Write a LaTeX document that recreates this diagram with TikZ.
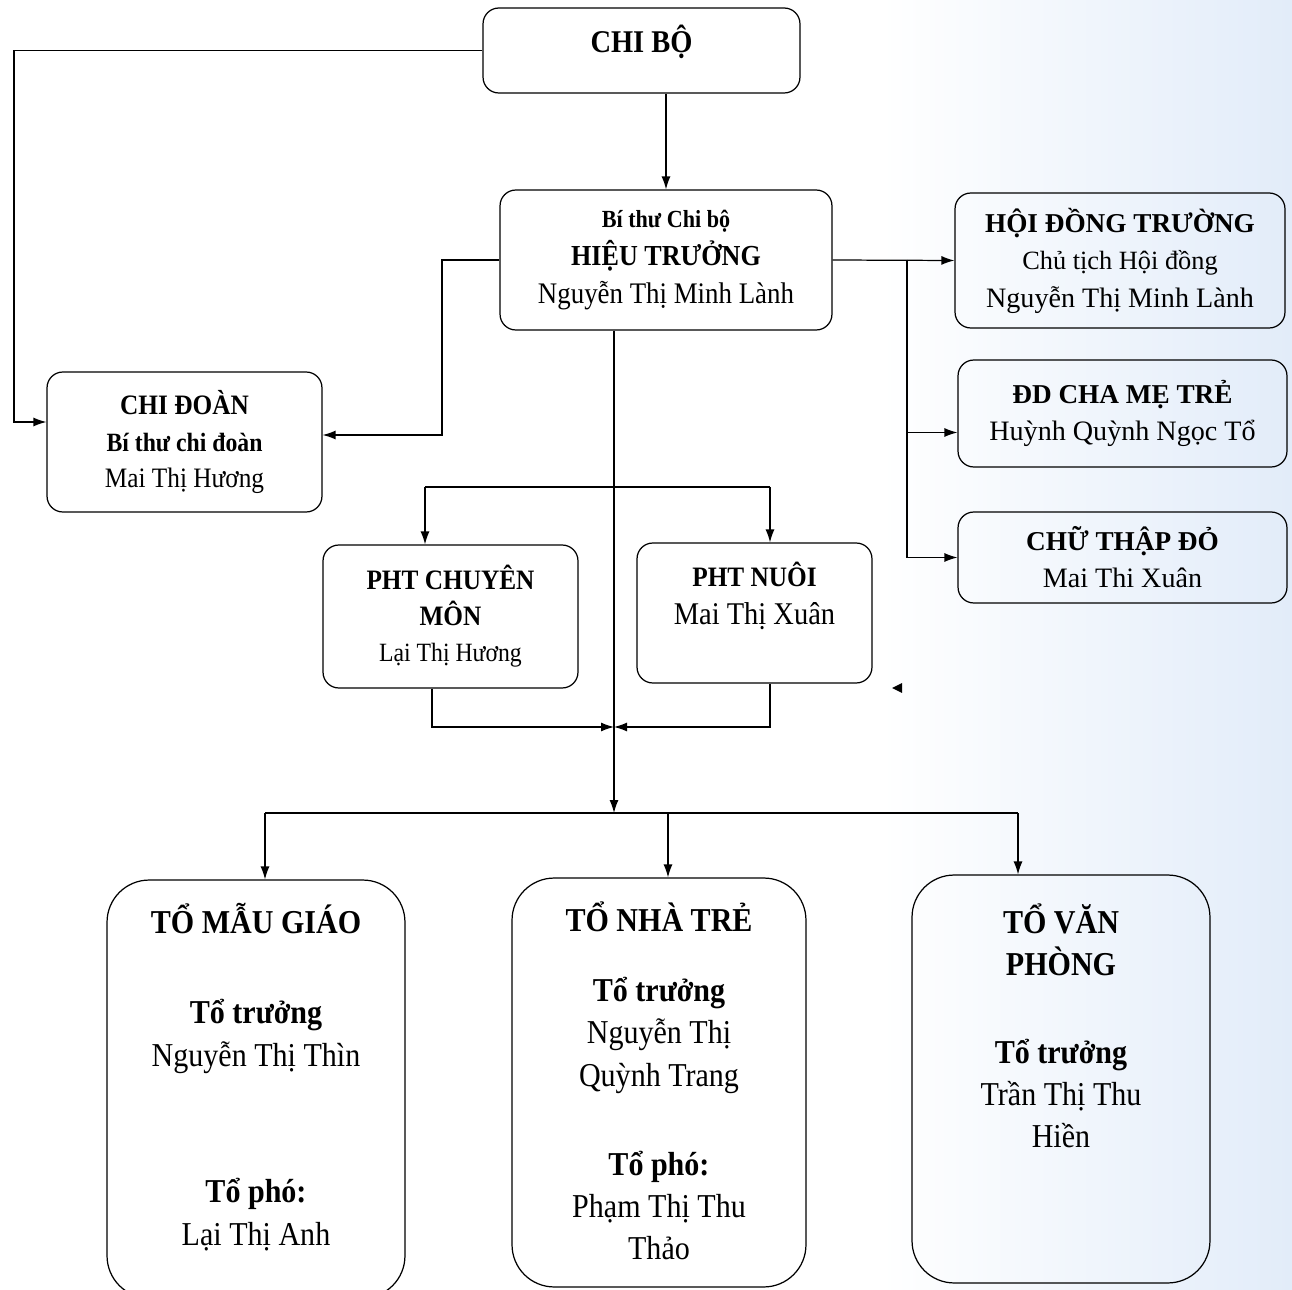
\documentclass[tikz,border=0pt]{standalone}
\usepackage{fontspec}
\setmainfont{Liberation Serif}[FakeStretch=0.9]
\newfontfamily\widefont{Liberation Serif}
\usetikzlibrary{arrows.meta}
\definecolor{paleblue}{RGB}{226,236,249}

\begin{document}
\begin{tikzpicture}[x=0.02cm, y=-0.02cm,
    box/.style={draw, line width=0.7pt, rounded corners=9pt, align=center, inner sep=0pt},
    bigbox/.style={box, rounded corners=24pt},
    txt/.style={align=center, inner sep=0pt},
    conn/.style={line width=0.7pt},
    arr/.style={conn, -{Latex[length=2.6mm, width=1.8mm]}}]
    % page, with the light blue at the right
    \useasboundingbox (0,0) rectangle (1292,1290);
    \shade[left color=white, right color=paleblue] (880,0) rectangle (1292,1290);

    % top
    \node[box, minimum width=6.34cm, minimum height=1.7cm] (chibo) at (641.5,50.5) {};
    \node[txt, font=\fontsize{18}{21}\selectfont\bfseries] (chiboT) at (641.5,42) {CHI BỘ};
    \node[box, minimum width=6.64cm, minimum height=2.8cm, font=\fontsize{17}{21.5}\selectfont] (ht) at (666,260)
        {{\fontsize{14}{21.5}\selectfont\bfseries Bí thư Chi bộ}\\
         {\fontsize{16.5}{21.5}\selectfont\bfseries HIỆU TRƯỞNG}\\
         Nguyễn Thị Minh Lành};

    % right column
    \node[box, minimum width=6.6cm, minimum height=2.7cm, font=\widefont\fontsize{16}{21.3}\selectfont] (hdt) at (1120,260.5)
        {{\fontsize{15.5}{21.3}\selectfont\bfseries HỘI ĐỒNG TRƯỜNG}\\
         {\fontsize{15}{21.3}\selectfont Chủ tịch Hội đồng}\\
         Nguyễn Thị Minh Lành};
    \node[box, minimum width=6.58cm, minimum height=2.14cm, font=\widefont\fontsize{16}{21}\selectfont] (ddcm) at (1122.5,413.5)
        {{\fontsize{15.5}{21}\selectfont\bfseries ĐD CHA MẸ TRẺ}\\
         Huỳnh Quỳnh Ngọc Tổ};
    \node[box, minimum width=6.58cm, minimum height=1.82cm, font=\widefont\fontsize{16}{21}\selectfont] (ctd) at (1122.5,557.5)
        {{\fontsize{15.5}{21}\selectfont\bfseries CHỮ THẬP ĐỎ}\\
         Mai Thi Xuân};

    % left and middle
    \node[box, minimum width=5.5cm, minimum height=2.8cm, font=\fontsize{16}{21}\selectfont] (chidoan) at (184.5,442)
        {\textbf{CHI ĐOÀN}\\
         {\fontsize{15}{21}\selectfont\bfseries Bí thư chi đoàn}\\
         Mai Thị Hương};
    \node[box, minimum width=5.1cm, minimum height=2.86cm, font=\fontsize{16}{20.5}\selectfont] (phtcm) at (450.5,616.5)
        {\textbf{PHT CHUYÊN}\\
         \textbf{MÔN}\\
         {\fontsize{15}{20.5}\selectfont Lại Thị Hương}};
    \node[box, minimum width=4.7cm, minimum height=2.8cm] (phtnuoi) at (754.5,613) {};
    \node[txt, font=\fontsize{18}{22}\selectfont] (phtnuoiT) at (754.5,596)
        {{\fontsize{16}{22}\selectfont\bfseries PHT NUÔI}\\ Mai Thị Xuân};

    % the three groups
    \node[bigbox, minimum width=5.96cm, minimum height=8.36cm] (tmg) at (256,1089) {};
    \node[txt, font=\fontsize{19}{24.5}\selectfont] (tmgT) at (256,1077)
        {\textbf{TỔ MẪU GIÁO}\\[26.6pt]
         \textbf{Tổ trưởng}\\ Nguyễn Thị Thìn\\[52.7pt]
         \textbf{Tổ phó:}\\ Lại Thị Anh};
    \node[bigbox, minimum width=5.88cm, minimum height=8.18cm] (tnt) at (659,1082.5) {};
    \node[txt, font=\fontsize{19}{24}\selectfont] (tntT) at (659,1081)
        {\textbf{TỔ NHÀ TRẺ}\\[16pt]
         \textbf{Tổ trưởng}\\ Nguyễn Thị\\ Quỳnh Trang\\[27pt]
         \textbf{Tổ phó:}\\ Phạm Thị Thu\\ Thảo};
    \node[bigbox, minimum width=5.96cm, minimum height=8.16cm] (tvp) at (1061,1079) {};
    \node[txt, font=\fontsize{19}{24}\selectfont] (tvpT) at (1061,1026)
        {\textbf{TỔ VĂN}\\ \textbf{PHÒNG}\\[26pt]
         \textbf{Tổ trưởng}\\ Trần Thị Thu\\ Hiền};

    % junction points
    \coordinate (lft) at (14,0);
    \coordinate (jl) at (442,0);
    \coordinate (jr) at (907,260);
    \coordinate (pj) at (614,487);
    \coordinate (mj) at (614,727);
    \coordinate (bus) at (614,813);
    \coordinate (cdin) at ([yshift=0.4cm]chidoan.west);
    \coordinate (cdin2) at ([yshift=0.14cm]chidoan.east);

    % chi bo
    \draw[arr] (chibo.west) -| (lft |- cdin) -- (cdin);
    \draw[arr] (chibo.south -| ht.north) -- (ht.north);
    % hieu truong to the sides
    \draw[arr] (ht.west) -| (jl |- cdin2) -- (cdin2);
    \draw[arr] (ht.east) -- (hdt.west);
    \draw[arr] (jr) |- ([yshift=-0.38cm]ddcm.west);
    \draw[arr] (jr) |- (ctd.west);
    % down the middle
    \draw[arr] (ht.south -| bus) -- (bus);
    \draw[conn] ([xshift=-0.51cm]phtcm.north |- pj) -- ([xshift=0.31cm]phtnuoi.north |- pj);
    \draw[arr] ([xshift=-0.51cm]phtcm.north |- pj) -- ([xshift=-0.51cm]phtcm.north);
    \draw[arr] ([xshift=0.31cm]phtnuoi.north |- pj) -- ([xshift=0.31cm]phtnuoi.north);
    \draw[arr] ([xshift=-0.37cm]phtcm.south) |- (mj);
    \draw[arr] ([xshift=0.31cm]phtnuoi.south) |- (mj);
    % the groups
    \draw[conn] ([xshift=0.18cm]tmg.north |- bus) -- ([xshift=-0.86cm]tvp.north |- bus);
    \draw[arr] ([xshift=0.18cm]tmg.north |- bus) -- ([xshift=0.18cm]tmg.north);
    \draw[arr] ([xshift=0.18cm]tnt.north |- bus) -- ([xshift=0.18cm]tnt.north);
    \draw[arr] ([xshift=-0.86cm]tvp.north |- bus) -- ([xshift=-0.86cm]tvp.north);

    % stray arrow tip
    \fill (892,688) -- (902,683) -- (902,693) -- cycle;
\end{tikzpicture}
\end{document}
